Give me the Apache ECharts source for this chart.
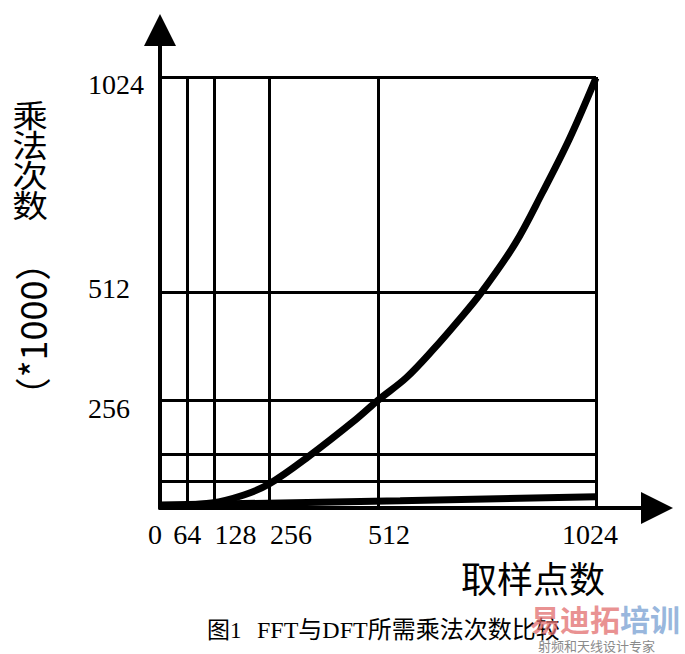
<!DOCTYPE html>
<html>
<head>
<meta charset="utf-8">
<title>FFT与DFT所需乘法次数比较</title>
<script src="https://cdn.jsdelivr.net/npm/echarts@6/dist/echarts.min.js"></script>
<style>
  html, body { margin: 0; padding: 0; background: #ffffff; }
  #chart { width: 685px; height: 654px; }
</style>
</head>
<body>
<div id="chart"></div>
<script>
// tick / grid values (取样点数, 乘法次数 *1000)
const xTickValues = [0, 64, 128, 256, 512, 1024]
const xGridValues = [64, 128, 256, 512, 1024]
const yGridValues = [64, 128, 256, 512, 1024]
const yLabelValues = [256, 512, 1024]

// DFT curve
const dftX = [0, 121, 197, 256, 347, 462, 512, 579, 644, 699, 754, 834, 898, 962, 1024]
const dftY = [4, 12, 31, 57, 121, 212, 256, 310, 379, 443, 511, 628, 749, 878, 1022]

// FFT line, nearly flat on the axis
const fftX = [0, 564, 1024]
const fftY = [7, 17, 27]

const serif = '"Liberation Serif", "Noto Sans CJK SC", serif'
const cjk = '"Noto Sans CJK SC", sans-serif'

// labels in the picture are nudged off their grid lines
const xLabelPad = { 0: [0, 10, 0, 0], 64: [0, 0, 0, 0], 128: [0, 0, 0, 42], 256: [0, 0, 0, 44], 512: [0, 0, 0, 22], 1024: [0, 12, 0, 0] }
const yLabelPad = { 256: [16, 0, 0, 0], 512: [0, 0, 8, 0], 1024: [14, 0, 0, 0] }

const xRich = {}
xTickValues.forEach(v => { xRich['x' + v] = { padding: xLabelPad[v], fontFamily: serif, fontSize: 28, color: '#000' } })
const yRich = {}
yLabelValues.forEach(v => { yRich['y' + v] = { padding: yLabelPad[v], fontFamily: serif, fontSize: 28, color: '#000' } })

const chart = echarts.init(document.getElementById('chart'), null, { renderer: 'svg' })

const gridLine = { show: true, lineStyle: { color: '#000', width: 3, type: 'solid' } }
const arrowAxis = {
  show: true,
  onZero: false,
  symbol: ['none', 'triangle'],
  symbolSize: [32, 32],
  lineStyle: { color: '#000', width: 4 }
}

const option = {
  backgroundColor: '#ffffff',
  animation: false,
  grid: [
    // data area
    { left: 160, top: 77, width: 436, height: 431 },
    // longer axes with arrow heads
    { left: 160, top: 30, width: 497, height: 478 }
  ],
  xAxis: [
    {
      gridIndex: 0,
      type: 'value',
      min: 0,
      max: 1024,
      axisLine: { show: false },
      axisTick: { show: false, customValues: xGridValues },
      splitLine: gridLine,
      axisLabel: {
        customValues: xTickValues,
        margin: 12,
        formatter: v => '{x' + v + '|' + v + '}',
        rich: xRich
      }
    },
    {
      gridIndex: 1,
      type: 'value',
      min: 0,
      max: 1,
      axisLine: arrowAxis,
      axisTick: { show: false },
      axisLabel: { show: false },
      splitLine: { show: false }
    }
  ],
  yAxis: [
    {
      gridIndex: 0,
      type: 'value',
      min: 0,
      max: 1024,
      axisLine: { show: false },
      axisTick: { show: false, customValues: yGridValues },
      splitLine: gridLine,
      axisLabel: {
        customValues: yLabelValues,
        align: 'left',
        margin: 72,
        formatter: v => '{y' + v + '|' + v + '}',
        rich: yRich
      }
    },
    {
      gridIndex: 1,
      type: 'value',
      min: 0,
      max: 1,
      axisLine: arrowAxis,
      axisTick: { show: false },
      axisLabel: { show: false },
      splitLine: { show: false }
    }
  ],
  series: [
    {
      name: 'DFT',
      type: 'line',
      xAxisIndex: 0,
      yAxisIndex: 0,
      smooth: 0.35,
      showSymbol: false,
      lineStyle: { color: '#000', width: 7 },
      data: dftX.map((x, i) => [x, dftY[i]])
    },
    {
      name: 'FFT',
      type: 'line',
      xAxisIndex: 0,
      yAxisIndex: 0,
      showSymbol: false,
      lineStyle: { color: '#000', width: 7 },
      data: fftX.map((x, i) => [x, fftY[i]])
    }
  ],
  graphic: [
    {
      type: 'text',
      x: 30,
      y: 99,
      scaleX: 1.15,
      style: {
        text: '乘\n法\n次\n数',
        font: '31px ' + cjk,
        lineHeight: 30,
        align: 'center',
        verticalAlign: 'top',
        fill: '#000'
      }
    },
    {
      // reads top to bottom, turned a quarter clockwise
      type: 'text',
      x: 31,
      y: 329,
      rotation: Math.PI / 2,
      style: {
        text: '（*1000）',
        font: '36px ' + cjk,
        align: 'center',
        verticalAlign: 'middle',
        fill: '#000'
      }
    },
    {
      type: 'text',
      x: 533,
      y: 577,
      style: {
        text: '取样点数',
        font: '36px ' + cjk,
        align: 'center',
        verticalAlign: 'middle',
        fill: '#000'
      }
    },
    {
      type: 'text',
      x: 207,
      y: 630,
      style: {
        text: '图1',
        font: '23px ' + serif,
        verticalAlign: 'middle',
        fill: '#000'
      }
    },
    {
      type: 'text',
      x: 257,
      y: 630,
      style: {
        text: 'FFT与DFT所需乘法次数比较',
        font: '24px ' + serif,
        verticalAlign: 'middle',
        fill: '#000'
      }
    },
    // watermark in the corner
    {
      type: 'text',
      x: 530,
      y: 618,
      style: {
        text: '{r|易迪拓}{b|培训}',
        verticalAlign: 'middle',
        rich: {
          r: { font: 'bold 30px ' + cjk, fill: 'rgba(226, 110, 110, 0.75)' },
          b: { font: 'bold 30px ' + cjk, fill: 'rgba(120, 160, 210, 0.75)' }
        }
      }
    },
    {
      type: 'text',
      x: 538,
      y: 645,
      style: {
        text: '射频和天线设计专家',
        font: '13px ' + cjk,
        verticalAlign: 'middle',
        fill: '#8a8a8a'
      }
    }
  ]
}

chart.setOption(option)
</script>
</body>
</html>
